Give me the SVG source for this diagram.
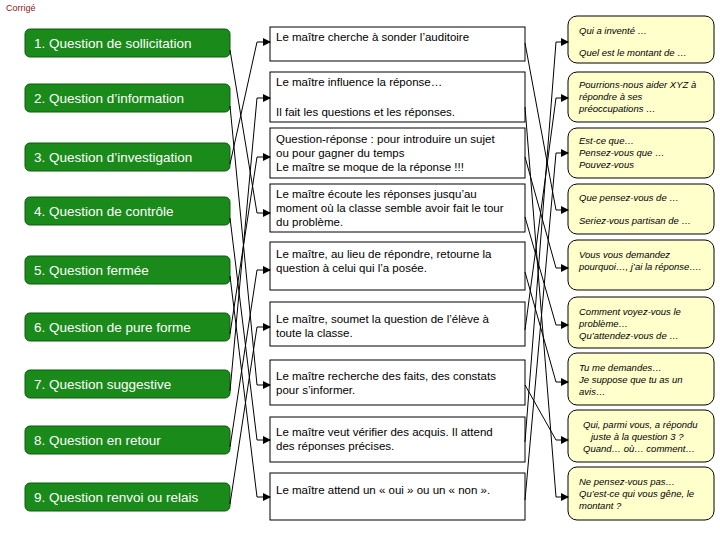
<svg xmlns="http://www.w3.org/2000/svg" width="720" height="540" viewBox="0 0 720 540">
<style>
.l rect{fill:#1a8a1a;stroke:#0d5c0d;stroke-width:1}
.l text{font-family:"Liberation Sans",Arial,sans-serif;font-size:13.5px;fill:#fff}
.m rect{fill:#fff;stroke:#000;stroke-width:1}
.m text{font-family:"Liberation Sans",Arial,sans-serif;font-size:11.5px;fill:#000}
.r rect{fill:#ffffcc;stroke:#000;stroke-width:1}
.r text{font-family:"Liberation Sans",Arial,sans-serif;font-size:9.5px;font-style:italic;fill:#000}
#conn path{fill:none;stroke:#000;stroke-width:1;marker-end:url(#a)}
</style>
<defs><marker id="a" markerWidth="8" markerHeight="8" refX="7" refY="4" orient="auto" markerUnits="userSpaceOnUse"><path d="M0,0L8,4L0,8z" fill="#000"/></marker></defs>
<rect width="720" height="540" fill="#fff"/>
<text x="6" y="11" font-family="Liberation Sans,Arial,sans-serif" font-size="9" fill="#8b1a1a">Corrigé</text>
<g class="l">
<g id="q1"><rect x="25" y="29" width="205" height="28" rx="5"/><text x="34" y="48">1. Question de sollicitation</text></g>
<g id="q2"><rect x="25" y="84" width="205" height="28" rx="5"/><text x="34" y="103">2. Question d’information</text></g>
<g id="q3"><rect x="25" y="143" width="205" height="28" rx="5"/><text x="34" y="162">3. Question d’investigation</text></g>
<g id="q4"><rect x="25" y="197" width="205" height="28" rx="5"/><text x="34" y="216">4. Question de contrôle</text></g>
<g id="q5"><rect x="25" y="256" width="205" height="28" rx="5"/><text x="34" y="275">5. Question fermée</text></g>
<g id="q6"><rect x="25" y="313" width="205" height="28" rx="5"/><text x="34" y="332">6. Question de pure forme</text></g>
<g id="q7"><rect x="25" y="370" width="205" height="28" rx="5"/><text x="34" y="389">7. Question suggestive</text></g>
<g id="q8"><rect x="25" y="426" width="205" height="28" rx="5"/><text x="34" y="445">8. Question en retour</text></g>
<g id="q9"><rect x="25" y="483" width="205" height="28" rx="5"/><text x="34" y="502">9. Question renvoi ou relais</text></g>
</g>
<g class="m">
<g id="m1"><rect x="270" y="27" width="255" height="34"/><text x="276" y="41">Le maître cherche à sonder l’auditoire</text></g>
<g id="m2"><rect x="270" y="72" width="255" height="50"/><text x="276" y="86">Le maître influence la réponse…</text><text x="276" y="116">Il fait les questions et les réponses.</text></g>
<g id="m3"><rect x="270" y="128" width="255" height="50"/><text x="276" y="143">Question-réponse : pour introduire un sujet</text><text x="276" y="157">ou  pour gagner du temps</text><text x="276" y="171">Le maître se moque de la réponse !!!</text></g>
<g id="m4"><rect x="270" y="184" width="255" height="48"/><text x="276" y="198">Le maître écoute les réponses jusqu’au</text><text x="276" y="212">moment où la classe semble avoir fait le tour</text><text x="276" y="226">du problème.</text></g>
<g id="m5"><rect x="270" y="242" width="255" height="48"/><text x="276" y="258">Le maître, au lieu de répondre, retourne la</text><text x="276" y="272">question à celui qui l’a posée.</text></g>
<g id="m6"><rect x="270" y="302" width="255" height="44"/><text x="276" y="323">Le maître, soumet la question de l’élève à</text><text x="276" y="337">toute la classe.</text></g>
<g id="m7"><rect x="270" y="360" width="255" height="45"/><text x="276" y="380">Le maître recherche des faits, des constats</text><text x="276" y="394">pour s’informer.</text></g>
<g id="m8"><rect x="270" y="417" width="255" height="45"/><text x="276" y="436">Le maître veut vérifier des acquis. Il attend</text><text x="276" y="450">des réponses précises.</text></g>
<g id="m9"><rect x="270" y="473" width="255" height="47"/><text x="276" y="494">Le maître attend un « oui » ou un « non ».</text></g>
</g>
<g class="r">
<g id="r1"><rect x="568" y="16" width="146" height="47" rx="9"/><text x="579" y="34">Qui a inventé …</text><text x="579" y="56">Quel est le montant de …</text></g>
<g id="r2"><rect x="568" y="72" width="146" height="50" rx="9"/><text x="579" y="88">Pourrions-nous aider XYZ à</text><text x="579" y="100">répondre à ses</text><text x="579" y="112">préoccupations …</text></g>
<g id="r3"><rect x="568" y="128" width="146" height="50" rx="9"/><text x="579" y="144">Est-ce que…</text><text x="579" y="156">Pensez-vous que …</text><text x="579" y="168">Pouvez-vous</text></g>
<g id="r4"><rect x="568" y="184" width="146" height="50" rx="9"/><text x="579" y="201">Que pensez-vous de …</text><text x="579" y="224">Seriez-vous partisan de …</text></g>
<g id="r5"><rect x="568" y="240" width="146" height="50" rx="9"/><text x="579" y="258">Vous vous demandez</text><text x="579" y="270">pourquoi…, j’ai la réponse….</text></g>
<g id="r6"><rect x="568" y="297" width="146" height="51" rx="9"/><text x="579" y="315">Comment voyez-vous le</text><text x="579" y="327">problème…</text><text x="579" y="339">Qu’attendez-vous de …</text></g>
<g id="r7"><rect x="568" y="353" width="146" height="52" rx="9"/><text x="579" y="371">Tu me demandes…</text><text x="579" y="383">Je suppose que tu as un</text><text x="579" y="395">avis…</text></g>
<g id="r8"><rect x="568" y="410" width="146" height="52" rx="9"/><text x="583" y="428">Qui, parmi vous, a répondu</text><text x="591" y="440">juste à la question 3 ?</text><text x="583" y="452">Quand… où… comment…</text></g>
<g id="r9"><rect x="568" y="467" width="146" height="53" rx="9"/><text x="579" y="485">Ne pensez-vous pas…</text><text x="579" y="497">Qu’est-ce qui vous gêne, le</text><text x="579" y="509">montant ?</text></g>
</g>
<g id="conn">
<path d="M230,50L257,213H270"/>
<path d="M230,106L257,385H270"/>
<path d="M230,164L257,42H270"/>
<path d="M230,218L257,440H270"/>
<path d="M230,276L257,497H270"/>
<path d="M230,334L257,157H270"/>
<path d="M230,391L257,98H270"/>
<path d="M230,447L257,270H270"/>
<path d="M230,504L257,327H270"/>
<path d="M525,43L556,210H568"/>
<path d="M525,107L556,497H568"/>
<path d="M525,157L556,268H568"/>
<path d="M525,217L556,325H568"/>
<path d="M525,272L556,382H568"/>
<path d="M525,330L556,98H568"/>
<path d="M525,385L556,440H568"/>
<path d="M525,442L556,42H568"/>
<path d="M525,500L556,153H568"/>
</g>
</svg>
